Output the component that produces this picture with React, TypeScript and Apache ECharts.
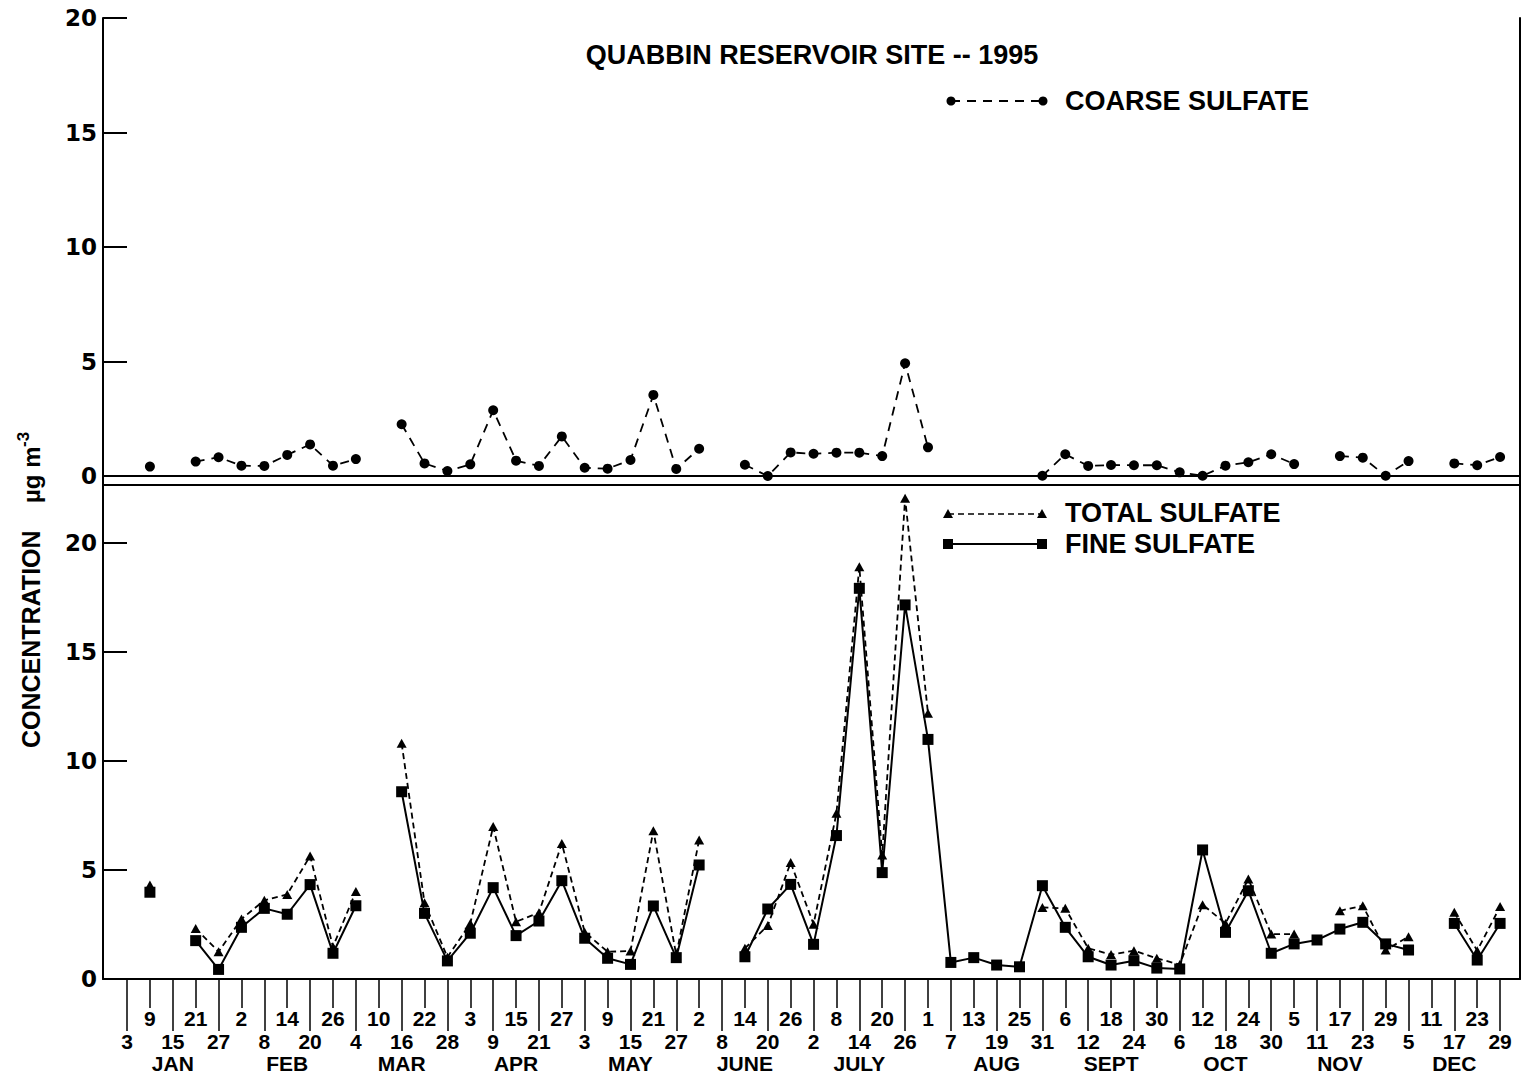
import React, { useEffect, useRef } from 'react';
import * as echarts from 'echarts';

// Sample dates (every 6th day of 1995), one per index 0..60
const dayLabels = [
  '3', '9', '15', '21', '27',
  '2', '8', '14', '20', '26',
  '4', '10', '16', '22', '28',
  '3', '9', '15', '21', '27',
  '3', '9', '15', '21', '27',
  '2', '8', '14', '20', '26',
  '2', '8', '14', '20', '26',
  '1', '7', '13', '19', '25', '31',
  '6', '12', '18', '24', '30',
  '6', '12', '18', '24', '30',
  '5', '11', '17', '23', '29',
  '5', '11', '17', '23', '29',
];
const monthNames = ['JAN', 'FEB', 'MAR', 'APR', 'MAY', 'JUNE', 'JULY', 'AUG', 'SEPT', 'OCT', 'NOV', 'DEC'];
const monthLabelIndex = [2, 7, 12, 17, 22, 27, 32, 38, 43, 48, 53, 58];

const coarseSulfate: (number | null)[] = [
  null, 0.41, null, 0.63, 0.82, 0.45, 0.44, 0.92, 1.38, 0.45,
  0.74, null, 2.26, 0.55, 0.22, 0.51, 2.87, 0.67, 0.44, 1.73,
  0.36, 0.32, 0.70, 3.54, 0.31, 1.19, null, 0.49, 0.0, 1.03,
  0.97, 1.02, 1.02, 0.87, 4.92, 1.25, null, null, null, null,
  0.01, 0.95, 0.44, 0.48, 0.47, 0.47, 0.16, 0.01, 0.45, 0.60,
  0.95, 0.52, null, 0.87, 0.80, 0.01, 0.65, null, 0.55, 0.47,
  0.83,
];
const totalSulfate: (number | null)[] = [
  null, 4.31, null, 2.32, 1.25, 2.75, 3.61, 3.88, 5.64, 1.48,
  4.01, null, 10.81, 3.50, 1.00, 2.55, 6.99, 2.63, 3.04, 6.22,
  2.15, 1.25, 1.28, 6.80, 1.10, 6.38, null, 1.41, 2.45, 5.34,
  2.51, 7.60, 18.91, 5.69, 22.05, 12.19, null, null, null, null,
  3.28, 3.24, 1.41, 1.12, 1.30, 0.95, 0.66, 3.41, 2.55, 4.59,
  2.06, 2.06, null, 3.13, 3.36, 1.33, 1.94, null, 3.06, 1.30,
  3.32,
];
const fineSulfate: (number | null)[] = [
  null, 3.98, null, 1.76, 0.44, 2.37, 3.24, 2.97, 4.33, 1.18,
  3.36, null, 8.59, 3.01, 0.83, 2.10, 4.19, 1.99, 2.66, 4.51,
  1.87, 0.95, 0.67, 3.35, 0.98, 5.23, null, 1.02, 3.21, 4.34,
  1.59, 6.58, 17.92, 4.88, 17.16, 10.99, 0.76, 0.98, 0.64, 0.56,
  4.28, 2.37, 1.02, 0.64, 0.84, 0.50, 0.46, 5.92, 2.14, 4.05,
  1.18, 1.61, 1.79, 2.29, 2.60, 1.61, 1.33, null, 2.55, 0.87,
  2.55,
];

const evenIdx = dayLabels.map((_, i) => i).filter((i) => i % 2 === 0);
const oddIdx = dayLabels.map((_, i) => i).filter((i) => i % 2 === 1);

const X_MIN = -1.05;
const X_MAX = 60.87;
const BOTTOM_MAX = 22.66;

const BOLD = 'bold';
const SANS = 'Liberation Sans, Arial, sans-serif';
const YFONT = 'DejaVu Sans, sans-serif';

function toPts(arr: (number | null)[]) {
  return arr.map((v, i) => [i, v === null ? '-' : v]);
}

export default function App() {
  const ref = useRef<HTMLDivElement>(null);
  useEffect(() => {
    const chart = echarts.init(ref.current!, null, { renderer: 'svg' });
    const L = 103;
    const R = 1520;
    const hiddenAxisCommon = {
      type: 'value' as const,
      min: X_MIN,
      max: X_MAX,
      splitLine: { show: false },
    };
    const yLabel = {
      fontFamily: YFONT,
      fontWeight: BOLD,
      fontSize: 23,
      color: '#000',
      margin: 6,
    };
    const xLabelFont = {
      fontFamily: SANS,
      fontWeight: BOLD,
      fontSize: 21,
      color: '#000',
    };
    const option: any = {
      animation: false,
      backgroundColor: '#fff',
      grid: [
        { left: L, right: 1522 - R, top: 18, height: 458 },
        { left: L, right: 1522 - R, top: 485, height: 494 },
      ],
      xAxis: [
        {
          ...hiddenAxisCommon,
          gridIndex: 0,
          position: 'bottom',
          axisLine: { show: true, lineStyle: { color: '#000', width: 2 } },
          axisTick: { show: false },
          axisLabel: { show: false },
        },
        {
          ...hiddenAxisCommon,
          gridIndex: 1,
          position: 'bottom',
          axisLine: { show: true, onZero: false, lineStyle: { color: '#000', width: 2 } },
          axisTick: { show: true, customValues: evenIdx, length: 52, lineStyle: { color: '#000', width: 1.5 } },
          axisLabel: {
            show: true,
            customValues: evenIdx,
            formatter: (v: number) => dayLabels[Math.round(v)],
            ...xLabelFont,
            margin: 52,
          },
        },
        {
          ...hiddenAxisCommon,
          gridIndex: 1,
          position: 'bottom',
          axisLine: { show: false, onZero: false },
          axisTick: { show: true, customValues: oddIdx, length: 29, lineStyle: { color: '#000', width: 1.5 } },
          axisLabel: {
            show: true,
            customValues: oddIdx,
            formatter: (v: number) => dayLabels[Math.round(v)],
            ...xLabelFont,
            margin: 29,
          },
        },
        {
          ...hiddenAxisCommon,
          gridIndex: 1,
          position: 'bottom',
          axisLine: { show: false, onZero: false },
          axisTick: { show: false },
          axisLabel: {
            show: true,
            customValues: monthLabelIndex,
            formatter: (v: number) => monthNames[monthLabelIndex.indexOf(Math.round(v))],
            ...xLabelFont,
            margin: 74,
          },
        },
        {
          ...hiddenAxisCommon,
          gridIndex: 1,
          position: 'top',
          axisLine: { show: true, onZero: false, lineStyle: { color: '#000', width: 2 } },
          axisTick: { show: false },
          axisLabel: { show: false },
        },
      ],
      yAxis: [
        {
          type: 'value',
          gridIndex: 0,
          position: 'left',
          min: 0,
          max: 20,
          interval: 5,
          splitLine: { show: false },
          axisLine: { show: true, onZero: false, lineStyle: { color: '#000', width: 2 } },
          axisTick: { show: true, inside: true, length: 24, lineStyle: { color: '#000', width: 2 } },
          axisLabel: yLabel,
        },
        {
          type: 'value',
          gridIndex: 0,
          position: 'right',
          min: 0,
          max: 20,
          interval: 5,
          splitLine: { show: false },
          axisLine: { show: true, onZero: false, lineStyle: { color: '#000', width: 2 } },
          axisTick: { show: false },
          axisLabel: { show: false },
        },
        {
          type: 'value',
          gridIndex: 1,
          position: 'left',
          min: 0,
          max: BOTTOM_MAX,
          interval: 5,
          splitLine: { show: false },
          axisLine: { show: true, onZero: false, lineStyle: { color: '#000', width: 2 } },
          axisTick: { show: true, inside: true, length: 24, lineStyle: { color: '#000', width: 2 } },
          axisLabel: {
            ...yLabel,
            formatter: (v: number) => (Math.abs(v % 5) < 1e-6 ? String(v) : ''),
          },
        },
        {
          type: 'value',
          gridIndex: 1,
          position: 'right',
          min: 0,
          max: BOTTOM_MAX,
          interval: 5,
          splitLine: { show: false },
          axisLine: { show: true, onZero: false, lineStyle: { color: '#000', width: 2 } },
          axisTick: { show: false },
          axisLabel: { show: false },
        },
      ],
      series: [
        {
          name: 'COARSE SULFATE',
          type: 'line',
          xAxisIndex: 0,
          yAxisIndex: 0,
          data: toPts(coarseSulfate),
          connectNulls: false,
          symbol: 'circle',
          symbolSize: 10,
          itemStyle: { color: '#000' },
          lineStyle: { color: '#000', width: 1.8, type: [9, 7] },
        },
        {
          name: 'TOTAL SULFATE',
          type: 'line',
          xAxisIndex: 1,
          yAxisIndex: 2,
          data: toPts(totalSulfate),
          connectNulls: false,
          symbol: 'triangle',
          symbolSize: [10, 9],
          itemStyle: { color: '#000' },
          lineStyle: { color: '#000', width: 1.8, type: [6, 4] },
        },
        {
          name: 'FINE SULFATE',
          type: 'line',
          xAxisIndex: 1,
          yAxisIndex: 2,
          data: toPts(fineSulfate),
          connectNulls: false,
          symbol: 'rect',
          symbolSize: 11,
          itemStyle: { color: '#000' },
          lineStyle: { color: '#000', width: 2 },
        },
      ],
      graphic: [
        // fill the gap between the two panels on left and right borders
        { type: 'line', shape: { x1: L, y1: 476, x2: L, y2: 485 }, style: { stroke: '#000', lineWidth: 2 } },
        { type: 'line', shape: { x1: R, y1: 476, x2: R, y2: 485 }, style: { stroke: '#000', lineWidth: 2 } },
        {
          type: 'text',
          x: 812,
          y: 55,
          style: {
            text: 'QUABBIN RESERVOIR SITE -- 1995',
            fontFamily: SANS,
            fontWeight: BOLD,
            fontSize: 27,
            fill: '#000',
            align: 'center',
            verticalAlign: 'middle',
          },
        },
        // coarse legend
        { type: 'line', shape: { x1: 951, y1: 101, x2: 1043, y2: 101 }, style: { stroke: '#000', lineWidth: 1.8, lineDash: [9, 7] } },
        { type: 'circle', shape: { cx: 951, cy: 101, r: 4.5 }, style: { fill: '#000' } },
        { type: 'circle', shape: { cx: 1043, cy: 101, r: 4.5 }, style: { fill: '#000' } },
        {
          type: 'text',
          x: 1065,
          y: 101,
          style: { text: 'COARSE SULFATE', fontFamily: SANS, fontWeight: BOLD, fontSize: 27, fill: '#000', align: 'left', verticalAlign: 'middle' },
        },
        // total legend
        { type: 'line', shape: { x1: 948, y1: 514, x2: 1042, y2: 514 }, style: { stroke: '#000', lineWidth: 1.5, lineDash: [6, 4] } },
        { type: 'polygon', shape: { points: [[948, 509], [953, 518], [943, 518]] }, style: { fill: '#000' } },
        { type: 'polygon', shape: { points: [[1042, 509], [1047, 518], [1037, 518]] }, style: { fill: '#000' } },
        {
          type: 'text',
          x: 1065,
          y: 513,
          style: { text: 'TOTAL SULFATE', fontFamily: SANS, fontWeight: BOLD, fontSize: 27, fill: '#000', align: 'left', verticalAlign: 'middle' },
        },
        // fine legend
        { type: 'line', shape: { x1: 948, y1: 544, x2: 1042, y2: 544 }, style: { stroke: '#000', lineWidth: 2 } },
        { type: 'rect', shape: { x: 943, y: 539, width: 10, height: 10 }, style: { fill: '#000' } },
        { type: 'rect', shape: { x: 1037, y: 539, width: 10, height: 10 }, style: { fill: '#000' } },
        {
          type: 'text',
          x: 1065,
          y: 544,
          style: { text: 'FINE SULFATE', fontFamily: SANS, fontWeight: BOLD, fontSize: 27, fill: '#000', align: 'left', verticalAlign: 'middle' },
        },
        // y-axis title
        {
          type: 'text',
          x: 31,
          y: 748,
          rotation: Math.PI / 2,
          style: { text: 'CONCENTRATION', fontFamily: SANS, fontWeight: BOLD, fontSize: 25, fill: '#000', align: 'left', verticalAlign: 'middle' },
        },
        {
          type: 'text',
          x: 31,
          y: 503,
          rotation: Math.PI / 2,
          style: { text: '\u00b5g m', fontFamily: SANS, fontWeight: BOLD, fontSize: 24, fill: '#000', align: 'left', verticalAlign: 'middle' },
        },
        {
          type: 'text',
          x: 23,
          y: 447,
          rotation: Math.PI / 2,
          style: { text: '-3', fontFamily: SANS, fontWeight: BOLD, fontSize: 17, fill: '#000', align: 'left', verticalAlign: 'middle' },
        },
      ],
    };
    chart.setOption(option);
    return () => chart.dispose();
  }, []);
  return <div ref={ref} style={{ position: 'absolute', left: 0, top: 0, width: 1522, height: 1078 }} />;
}
